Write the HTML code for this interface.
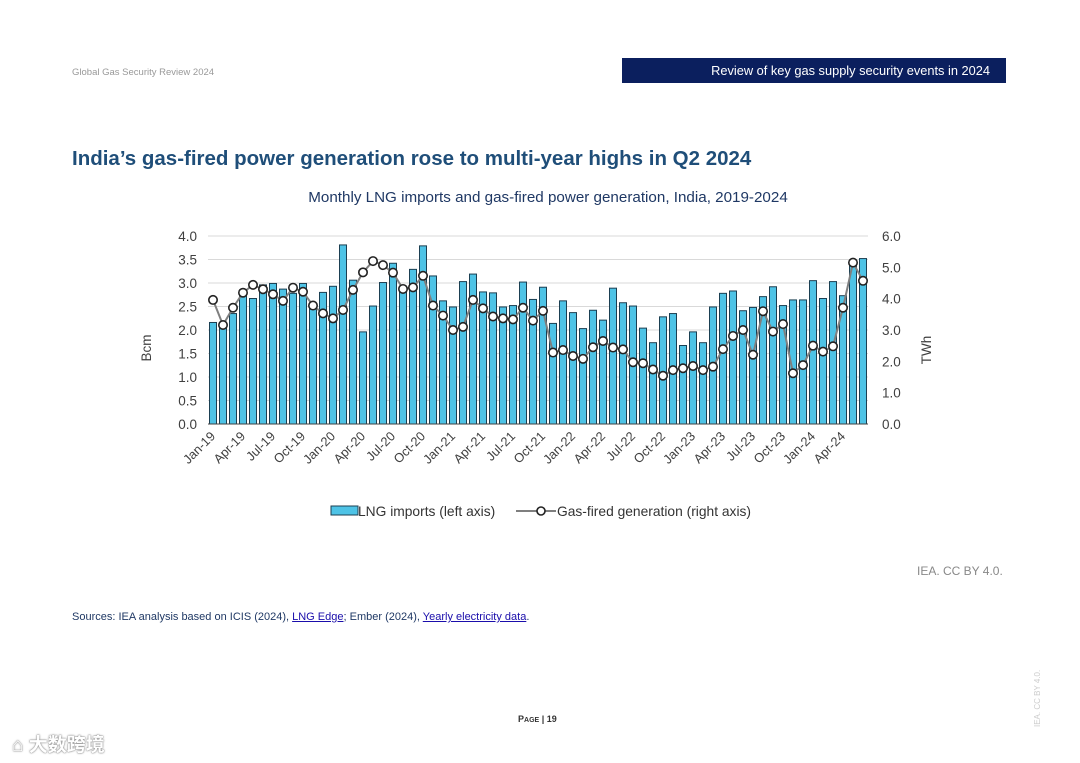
<!DOCTYPE html>
<html><head><meta charset="utf-8"><style>
body{margin:0;width:1080px;height:763px;background:#fff;font-family:"Liberation Sans",Arial,sans-serif;position:relative;overflow:hidden}
.a{position:absolute;white-space:nowrap}
</style></head><body>
<div class="a" style="left:72px;top:67px;font-size:9.5px;color:#999">Global Gas Security Review 2024</div>
<div class="a" style="left:622px;top:58px;width:384px;height:25px;background:#0b1f5e;color:#fff;font-size:12.8px;line-height:26px;text-align:right;box-sizing:border-box;padding-right:16px">Review of key gas supply security events in 2024</div>
<div class="a" style="left:72px;top:147px;font-size:20.5px;font-weight:bold;color:#1f4e79">India’s gas-fired power generation rose to multi-year highs in Q2 2024</div>
<div class="a" style="left:0;width:1096px;top:189px;text-align:center;font-size:15.2px;color:#1f3864">Monthly LNG imports and gas-fired power generation, India, 2019-2024</div>
<svg class="a" style="left:0;top:0" width="1080" height="763" id="ch"></svg>
<div class="a" style="left:917px;top:564px;font-size:12px;color:#888">IEA. CC BY 4.0.</div>
<div class="a" style="left:72px;top:611px;font-size:11px;color:#1f3864">Sources: IEA analysis based on ICIS (2024), <u style="color:#1a0dab">LNG Edge</u>; Ember (2024), <u style="color:#1a0dab">Yearly electricity data</u>.</div>
<div class="a" style="left:518px;top:714px;font-size:9px;font-weight:bold;color:#333">P<span style="font-size:7px">AGE</span> | 19</div>
<div class="a" style="left:1033px;top:727px;font-size:8px;color:#ccc;transform:rotate(-90deg);transform-origin:0 0">IEA. CC BY 4.0.</div>
<div class="a" style="left:12px;top:730px;font-size:19px;font-weight:bold;color:#fff;text-shadow:0 0 2px #888,0 0 1px #666;font-family:'Liberation Sans','Noto Sans CJK SC',sans-serif">⌂ 大数跨境</div>
<script>
const months=["Jan","Feb","Mar","Apr","May","Jun","Jul","Aug","Sep","Oct","Nov","Dec"];
const lng=[2.16,2.1,2.35,2.74,2.67,2.96,2.99,2.87,2.78,2.99,2.45,2.8,2.93,3.81,3.06,1.96,2.51,3.01,3.42,2.81,3.29,3.79,3.15,2.62,2.49,3.03,3.19,2.81,2.79,2.49,2.52,3.02,2.65,2.91,2.14,2.62,2.37,2.03,2.42,2.21,2.89,2.58,2.51,2.04,1.73,2.28,2.35,1.67,1.96,1.73,2.49,2.78,2.83,2.41,2.48,2.71,2.92,2.52,2.64,2.64,3.05,2.67,3.03,2.73,3.45,3.52];
const gen=[3.96,3.16,3.71,4.19,4.44,4.30,4.14,3.93,4.35,4.22,3.78,3.53,3.37,3.64,4.28,4.84,5.20,5.07,4.83,4.31,4.36,4.73,3.78,3.46,3.00,3.10,3.96,3.69,3.43,3.37,3.34,3.71,3.30,3.61,2.28,2.36,2.17,2.08,2.45,2.65,2.44,2.38,1.97,1.94,1.74,1.54,1.72,1.78,1.85,1.72,1.83,2.39,2.81,3.00,2.21,3.60,2.95,3.19,1.62,1.88,2.50,2.31,2.48,3.71,5.15,4.57];
const leftTicks=[0,0.5,1,1.5,2,2.5,3,3.5,4];
const rightTicks=[0,1,2,3,4,5,6];
const svg=document.getElementById('ch');const NS='http://www.w3.org/2000/svg';
const X0=208,BW=10,Y0=424,YT=236;
const xc=i=>X0+5+i*BW;
const yl=v=>Y0-(v/4)*(Y0-YT);
const yr=v=>Y0-(v/6)*(Y0-YT);
function mk(t,a,p){const e=document.createElementNS(NS,t);for(const k in a)e.setAttribute(k,a[k]);(p||svg).appendChild(e);return e;}
leftTicks.forEach(v=>{const g=mk('line',{x1:X0,x2:868,y1:yl(v),y2:yl(v),stroke:'#d9d9d9','stroke-width':1});


const t=mk('text',{x:197,y:yl(v)+5,'text-anchor':'end','font-size':13.5,fill:'#404040'});t.textContent=v.toFixed(1);

});
rightTicks.forEach(v=>{const t=mk('text',{x:882,y:yr(v)+5,'font-size':13.5,fill:'#404040'});t.textContent=v.toFixed(1);

});
lng.forEach((v,i)=>{const r=mk('rect',{x:xc(i)-3.5,y:yl(v),width:7,height:Y0-yl(v),fill:'#4ec3e6',stroke:'#1b3f52','stroke-width':1});

});
mk('line',{x1:X0,x2:868,y1:Y0,y2:Y0,stroke:'#404040','stroke-width':1});
const pl=mk('polyline',{points:gen.map((v,i)=>xc(i)+','+yr(v)).join(' '),fill:'none',stroke:'#7f7f7f','stroke-width':2});


gen.forEach((v,i)=>{const c=mk('circle',{cx:xc(i),cy:yr(v),r:4.2,fill:'#fff',stroke:'#222','stroke-width':1.6});

});
for(let i=0;i<lng.length;i+=3){const x=xc(i),y=433;const t=mk('text',{x:x+3,y:y+4,'text-anchor':'end','font-size':12.8,fill:'#404040',transform:`rotate(-45 ${x+3} ${y+4})`});
t.textContent=months[i%12]+'-'+String(19+Math.floor(i/12));

}
let t=mk('text',{x:151,y:348,'font-size':13.5,fill:'#404040','text-anchor':'middle',transform:'rotate(-90 151 348)'});t.textContent='Bcm';


t=mk('text',{x:931,y:350,'font-size':13.5,fill:'#404040','text-anchor':'middle',transform:'rotate(-90 931 350)'});t.textContent='TWh';


const l1=mk('rect',{x:331,y:506,width:27,height:9,fill:'#4ec3e6',stroke:'#1b3f52'});


t=mk('text',{x:358,y:516,'font-size':13.8,fill:'#333'});t.textContent='LNG imports (left axis)';


mk('line',{x1:516,x2:556,y1:511,y2:511,stroke:'#7f7f7f','stroke-width':2});
const lc=mk('circle',{cx:541,cy:511,r:4,fill:'#fff',stroke:'#222','stroke-width':1.6});


t=mk('text',{x:557,y:516,'font-size':13.8,fill:'#333'});t.textContent='Gas-fired generation (right axis)';


</script>
</body></html>
